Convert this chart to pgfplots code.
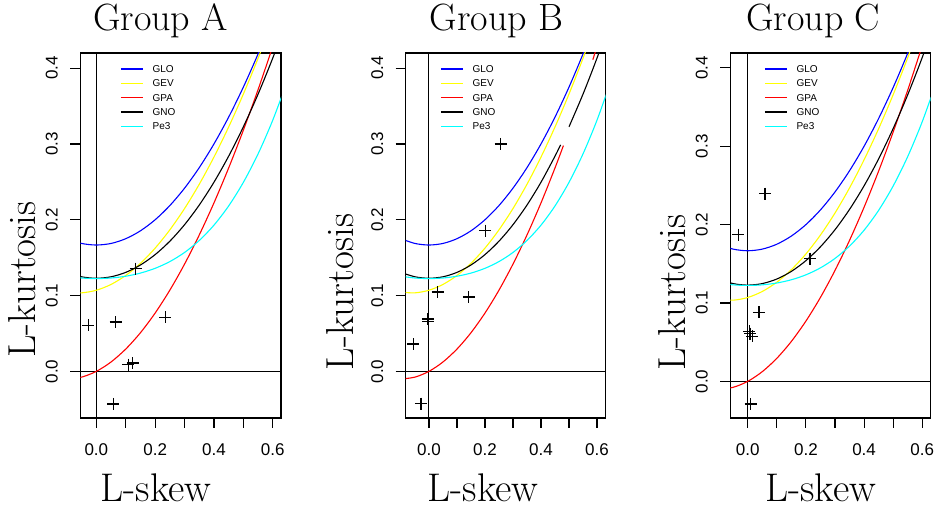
\documentclass[border=0pt]{standalone}
\usepackage{fontspec}
\setsansfont{Liberation Sans}
\usepackage{pgfplots}
\usepackage{pgfplotstable}
\pgfplotsset{compat=1.18}

\definecolor{Rblue}{RGB}{0,0,255}
\definecolor{Ryellow}{RGB}{255,255,0}
\definecolor{Rred}{RGB}{255,0,0}
\definecolor{Rcyan}{RGB}{0,255,255}

% theoretical L-moment ratio curves (t3, t4)
\pgfplotstableread{
t y
-0.10 0.17500
-0.05 0.16875
0.00 0.16667
0.05 0.16875
0.10 0.17500
0.15 0.18542
0.20 0.20000
0.25 0.21875
0.30 0.24167
0.35 0.26875
0.40 0.30000
0.45 0.33542
0.50 0.37500
0.55 0.41875
0.60 0.46667
}\glo
\pgfplotstableread{
t y
-0.10 0.10447
-0.05 0.10359
0.00 0.10701
0.05 0.11467
0.10 0.12652
0.15 0.14251
0.20 0.16259
0.25 0.18671
0.30 0.21480
0.35 0.24683
0.40 0.28271
0.45 0.32240
0.50 0.36585
0.55 0.41299
0.60 0.46377
}\gev
\pgfplotstableread{
t y
-0.10 -0.01020
-0.05 -0.00758
0.00 0.00000
0.05 0.01238
0.10 0.02941
0.15 0.05097
0.20 0.07692
0.25 0.10714
0.30 0.14151
0.35 0.17991
0.40 0.22222
0.45 0.26835
0.50 0.31818
0.55 0.37162
0.60 0.42857
}\gpa
\pgfplotstableread{
t y
-0.10 0.13058
-0.05 0.12476
0.00 0.12282
0.05 0.12476
0.10 0.13058
0.15 0.14032
0.20 0.15402
0.25 0.17172
0.30 0.19349
0.35 0.21940
0.40 0.24951
0.45 0.28389
0.50 0.32260
0.55 0.36572
0.60 0.41335
0.65 0.46559
}\gno
\pgfplotstableread{
t y
-0.10 0.12551
-0.05 0.12316
0.00 0.12240
0.05 0.12316
0.10 0.12551
0.15 0.12965
0.20 0.13594
0.25 0.14483
0.30 0.15686
0.35 0.17266
0.40 0.19288
0.45 0.21822
0.50 0.24934
0.55 0.28688
0.60 0.33142
0.65 0.38348
}\pethree

\pgfplotsset{
  lmr/.style={
    scale only axis, height=365pt,
    ymin=-0.0615, ymax=0.42,
    xtick={0,0.1,0.2,0.3,0.4,0.5,0.6},
    xticklabels={0.0,,0.2,,0.4,,0.6},
    ytick={0,0.1,0.2,0.3,0.4},
    yticklabels={0.0,0.1,0.2,0.3,0.4},
    tick align=outside, xtick pos=left, ytick pos=left,
    major tick length=10pt,
    every tick/.style={black, line width=1.1pt},
    axis line style={line width=1.3pt},
    ticklabel style={font=\fontsize{17}{17}\selectfont\sffamily},
    xticklabel shift=12pt, yticklabel shift=9pt,
    yticklabel style={rotate=90, anchor=south},
    title style={font=\fontsize{38}{38}\selectfont, anchor=base, yshift=0pt, inner sep=0pt},
    xlabel style={font=\fontsize{40}{40}\selectfont, anchor=base, inner sep=0pt},
    ylabel style={font=\fontsize{39}{39}\selectfont, anchor=center, inner sep=0pt},
    legend style={draw=none, fill=none, anchor=north west,
      font=\fontsize{10}{10}\selectfont\sffamily, inner sep=0pt,
      row sep=7.3pt, column sep=9pt,
      nodes={inner sep=0pt, text height=7pt, text depth=0pt}},
    legend cell align=left,
  },
  cv/.style={line width=1.1pt, smooth},
  pts/.style={only marks, mark=+, mark size=6pt, mark options={line width=1.2pt}, black},
  ref/.style={black, line width=1pt},
}

\begin{document}
\begin{tikzpicture}
\path[use as bounding box] (0,0) rectangle (935pt,508pt);

% ---------- Group A
\begin{axis}[lmr, at={(80.3pt,90pt)}, anchor=south west, width=200.7pt,
    xmin=-0.0545, xmax=0.628,
    title={Group A}, title style={at={(axis description cs:0.40,1.046)}},
    xlabel={L-skew}, xlabel style={at={(axis description cs:0.377,-0.229)}},
    ylabel={L-kurtosis}, ylabel style={at={(axis description cs:-0.291,0.379)}},
    legend image code/.code={\draw[#1, line width=1.4pt] (0pt,0pt) -- (22pt,0pt);},
    legend style={at={(axis description cs:0.198,0.966)}}]
\addplot[ref, forget plot] coordinates {(0,-1) (0,1)};
\addplot[ref, forget plot] coordinates {(-1,0) (1,0)};
\addplot[cv, Rblue] table {\glo};
\addlegendentry{GLO}
\addplot[cv, Ryellow] table {\gev};
\addlegendentry{GEV}
\addplot[cv, Rred] table {\gpa};
\addlegendentry{GPA}
\addplot[cv, black] table {\gno};
\addlegendentry{GNO}
\addplot[cv, Rcyan] table {\pethree};
\addlegendentry{Pe3}
\addplot[pts, forget plot] coordinates {
  (-0.027,0.061) (0.066,0.065) (0.235,0.0715) (0.134,0.1355)
  (0.109,0.0088) (0.124,0.011) (0.058,-0.043)
};
\end{axis}

% ---------- Group B
\begin{axis}[lmr, at={(405.7pt,90pt)}, anchor=south west, width=200pt,
    xmin=-0.083, xmax=0.631,
    title={Group B}, title style={at={(axis description cs:0.455,1.046)}},
    xlabel={L-skew}, xlabel style={at={(axis description cs:0.3865,-0.229)}},
    ylabel={L-kurtosis}, ylabel style={at={(axis description cs:-0.3285,0.345)}},
    legend image code/.code={\draw[#1, line width=1.4pt] (0pt,0pt) -- (22pt,0pt);},
    legend style={at={(axis description cs:0.1715,0.966)}}]
\addplot[ref, forget plot] coordinates {(0,-1) (0,1)};
\addplot[ref, forget plot] coordinates {(-1,0) (1,0)};
\addplot[cv, Rblue] table {\glo};
\addlegendentry{GLO}
\addplot[cv, Ryellow] table {\gev};
\addlegendentry{GEV}
\addplot[cv, Rred] coordinates {
  (-0.10,-0.01020) (-0.05,-0.00758) (0.00,0.00000) (0.05,0.01238)
  (0.10,0.02941) (0.15,0.05097) (0.20,0.07692) (0.25,0.10714)
  (0.30,0.14151) (0.35,0.17991) (0.40,0.22222) (0.45,0.26835) (0.48,0.29781)
};
\addlegendentry{GPA}
\addplot[cv, black] coordinates {
  (-0.10,0.13058) (-0.05,0.12476) (0.00,0.12282) (0.05,0.12476)
  (0.10,0.13058) (0.15,0.14032) (0.20,0.15402) (0.25,0.17172)
  (0.30,0.19349) (0.35,0.21940) (0.40,0.24951) (0.45,0.28389) (0.47,0.29885)
};
\addlegendentry{GNO}
\addplot[cv, Rcyan] table {\pethree};
\addlegendentry{Pe3}
\addplot[cv, Rred, forget plot] coordinates {(0.585,0.41113) (0.60,0.42857) (0.62,0.45200)};
\addplot[cv, black, forget plot] coordinates {(0.50,0.32260) (0.55,0.36572) (0.60,0.41335) (0.65,0.46559)};
\addplot[pts, forget plot] coordinates {
  (0.256,0.300) (0.201,0.1855) (0.031,0.1047) (0.1426,0.098)
  (-0.004,0.069) (-0.002,0.066) (-0.056,0.036) (-0.0285,-0.0426)
};
\end{axis}

% ---------- Group C
\begin{axis}[lmr, at={(730.3pt,90pt)}, anchor=south west, width=200.4pt,
    xmin=-0.0598, xmax=0.629, ymin=-0.0467, ymax=0.419,
    title={Group C}, title style={at={(axis description cs:0.414,1.046)}},
    xlabel={L-skew}, xlabel style={at={(axis description cs:0.451,-0.229)}},
    ylabel={L-kurtosis}, ylabel style={at={(axis description cs:-0.288,0.343)}},
    legend image code/.code={\draw[#1, line width=1.4pt] (0pt,0pt) -- (22pt,0pt);},
    legend style={at={(axis description cs:0.168,0.966)}}]
\addplot[ref, forget plot] coordinates {(0,-1) (0,1)};
\addplot[ref, forget plot] coordinates {(-1,0) (1,0)};
\addplot[cv, Rblue] table {\glo};
\addlegendentry{GLO}
\addplot[cv, Ryellow] table {\gev};
\addlegendentry{GEV}
\addplot[cv, Rred] table {\gpa};
\addlegendentry{GPA}
\addplot[cv, black] table {\gno};
\addlegendentry{GNO}
\addplot[cv, Rcyan] table {\pethree};
\addlegendentry{Pe3}
\addplot[pts, forget plot] coordinates {
  (0.0595,0.2396) (-0.032,0.1873) (0.214,0.1566) (0.0388,0.0881)
  (0.005,0.064) (0.008,0.061) (0.016,0.0575) (0.010,-0.0289)
};
\end{axis}
\end{tikzpicture}
\end{document}
